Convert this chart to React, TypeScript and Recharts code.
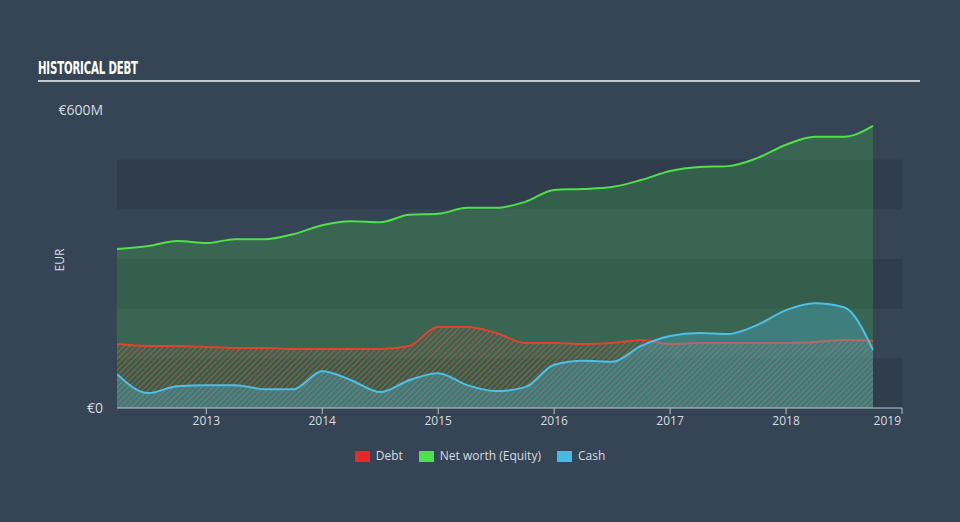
import React from 'react';
import { ComposedChart, Area, XAxis, YAxis, ReferenceArea } from 'recharts';

const dates = [
  2012.23, 2012.5, 2012.75, 2013.0, 2013.25, 2013.5, 2013.75, 2014.0, 2014.25, 2014.5,
  2014.75, 2015.0, 2015.25, 2015.5, 2015.75, 2016.0, 2016.25, 2016.5, 2016.75, 2017.0,
  2017.25, 2017.5, 2017.75, 2018.0, 2018.25, 2018.5, 2018.75,
];
const netWorth = [
  320, 326, 336, 332, 340, 340, 350, 368, 376, 374,
  389, 391, 403, 403, 415, 439, 441, 445, 459, 477,
  485, 487, 503, 530, 546, 546, 568,
];
const debt = [
  129, 125, 125, 123, 121, 121, 119, 119, 119, 119,
  125, 163, 163, 151, 131, 131, 129, 131, 137, 129,
  131, 131, 131, 131, 133, 137, 135,
];
const cash = [
  68, 30, 44, 46, 46, 38, 38, 74, 56, 32,
  56, 70, 46, 34, 42, 87, 95, 93, 125, 145,
  151, 149, 167, 197, 211, 203, 117,
];
const xTicks = [2013, 2014, 2015, 2016, 2017, 2018, 2019];
const yTicks = [0, 600];
const bands: [number, number][] = [[0, 100], [200, 300], [400, 500]];
const legendItems = [
  { label: 'Debt', color: '#e8272b' },
  { label: 'Net worth (Equity)', color: '#4de24a' },
  { label: 'Cash', color: '#48b9e1' },
];

const data = dates.map((d, i) => ({ date: d, netWorth: netWorth[i], debt: debt[i], cash: cash[i] }));

const FONT = "'Open Sans', 'DejaVu Sans', sans-serif";
const TEXT = '#d6dbe0';

const XTick = (props: any) => {
  const { x, y, payload } = props;
  const last = payload.value === 2019;
  return (
    <text x={last ? x - 1 : x} y={y} dy="0.71em" textAnchor={last ? 'end' : 'middle'} fill={TEXT} fontSize={12} fontFamily={FONT}>
      {payload.value}
    </text>
  );
};

const yFmt = (v: number) => (v === 0 ? '€0' : `€${v}M`);

export default function App() {
  return (
    <div style={{ position: 'absolute', left: 0, top: 0, width: 960, height: 522, background: '#354555', overflow: 'hidden' }}>
      <div style={{ position: 'absolute', left: 38, top: 58, color: '#ffffff', fontFamily: "'DejaVu Sans', sans-serif", fontWeight: 700, fontSize: 17, letterSpacing: -0.3, lineHeight: '20px', transform: 'scaleX(0.6)', transformOrigin: 'left top', whiteSpace: 'nowrap' }}>
        HISTORICAL DEBT
      </div>
      <div style={{ position: 'absolute', left: 38, top: 80, width: 882, height: 2, background: '#c3c8ce' }} />
      <div style={{ position: 'absolute', left: 45, top: 252, width: 30, textAlign: 'center', transform: 'rotate(-90deg)', color: TEXT, fontFamily: FONT, fontSize: 12, lineHeight: '16px' }}>
        EUR
      </div>
      <ComposedChart width={960} height={522} data={data} margin={{ top: 110, right: 58, bottom: 84, left: 17 }}>
        <defs>
          <pattern id="debtHatch" width="4" height="4" patternUnits="userSpaceOnUse" patternTransform="rotate(45)">
            <line x1="0" y1="0" x2="0" y2="4" stroke="#d9583c" strokeWidth="1.6" strokeOpacity="0.85" />
          </pattern>
        </defs>
        {bands.map(([a, b]) => (
          <ReferenceArea key={a} y1={a} y2={b} fill="#2a3646" fillOpacity={0.5} strokeWidth={0} ifOverflow="hidden" />
        ))}
        <XAxis
          dataKey="date"
          type="number"
          domain={[2012.23, 2019]}
          ticks={xTicks}
          tick={<XTick />}
          tickSize={6}
          height={30}
          axisLine={{ stroke: '#bcc3ca' }}
          tickLine={{ stroke: '#bcc3ca' }}
          allowDataOverflow
        />
        <YAxis
          domain={[0, 600]}
          ticks={yTicks}
          tickFormatter={yFmt}
          width={100}
          axisLine={false}
          tickLine={false}
          tickSize={0}
          tickMargin={14}
          tick={{ fill: TEXT, fontSize: 14, fontFamily: FONT }}
        />
        <Area dataKey="netWorth" type="monotone" stroke="#4fe04a" strokeWidth={2} fill="#4ad94a" fillOpacity={0.22} isAnimationActive={false} dot={false} activeDot={false} />
        <Area dataKey="debt" type="monotone" stroke="#e0452c" strokeWidth={2} fill="url(#debtHatch)" fillOpacity={1} isAnimationActive={false} dot={false} activeDot={false} />
        <Area dataKey="cash" type="monotone" stroke="#4cc0e6" strokeWidth={2} fill="#4bbde3" fillOpacity={0.3} isAnimationActive={false} dot={false} activeDot={false} />
      </ComposedChart>
      <div style={{ position: 'absolute', left: 0, top: 448, width: 960, display: 'flex', justifyContent: 'center', gap: 16, fontFamily: FONT, fontSize: 12, color: TEXT, lineHeight: '16px', paddingLeft: 0 }}>
        {legendItems.map((it) => (
          <div key={it.label} style={{ display: 'flex', alignItems: 'center', gap: 6 }}>
            <span style={{ display: 'inline-block', width: 15, height: 11, background: it.color }} />
            <span>{it.label}</span>
          </div>
        ))}
      </div>
    </div>
  );
}
